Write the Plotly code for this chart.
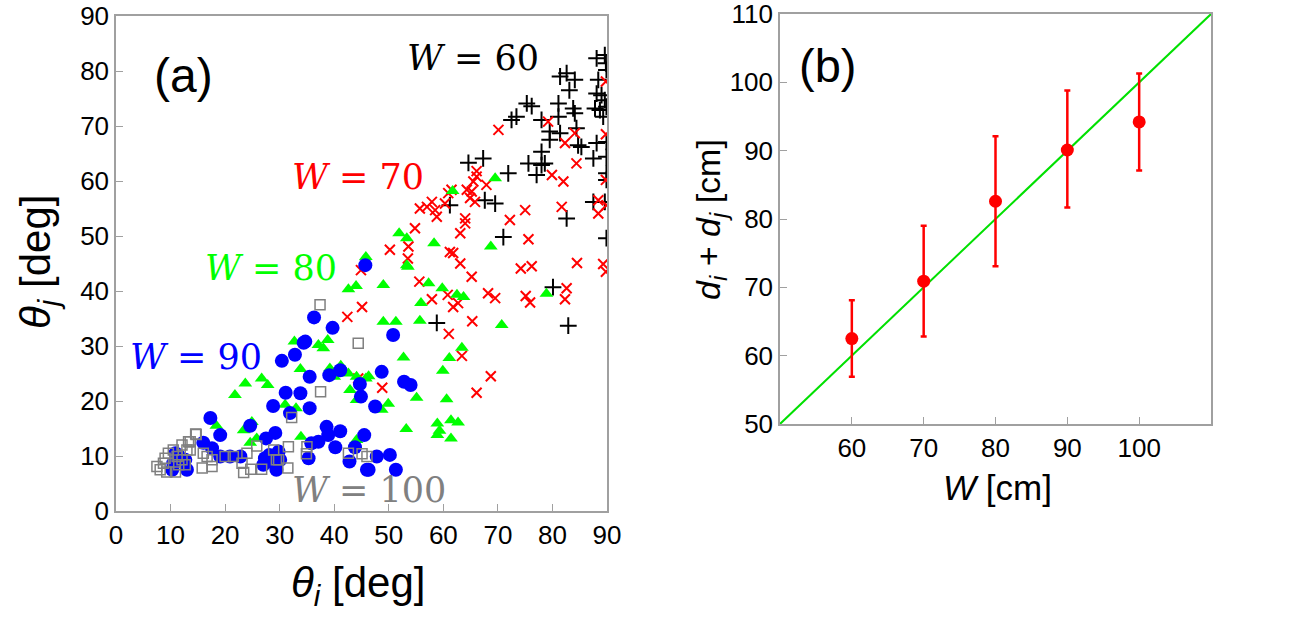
import plotly.graph_objects as go

# ---------------- Panel (a) data: (theta_i, theta_j) in degrees ----------------
w60_x = [88.1, 89.6, 89.8, 89.9, 81.4, 82.6, 84.1, 83.1, 88.4, 88.1, 89.0, 89.6, 89.9, 75.3, 76.2,
         81.1, 83.8, 84.1, 72.5, 73.4, 78.0, 81.1, 87.8, 88.7, 89.3, 79.5, 81.4, 84.4, 79.5, 84.7,
         85.3, 88.1, 89.9, 78.0, 64.6, 67.3, 75.6, 78.0, 78.6, 87.5, 89.9, 71.9, 77.1, 89.9, 89.9,
         67.6, 69.5, 61.2, 87.5, 89.6, 82.6, 71.0, 89.9, 80.1, 58.8, 82.9]
w60_y = [82.3, 82.9, 81.4, 80.2, 79.0, 79.6, 78.4, 76.5, 78.4, 75.9, 75.6, 74.7, 73.5, 74.1, 73.6,
         74.1, 73.2, 72.3, 71.1, 71.7, 71.1, 71.7, 73.2, 72.9, 71.7, 69.0, 68.7, 69.6, 67.5, 66.5,
         66.2, 66.9, 67.1, 65.3, 63.3, 64.1, 63.2, 62.9, 63.2, 64.1, 64.4, 61.4, 61.1, 61.4, 60.2,
         56.5, 55.9, 55.6, 56.2, 56.2, 53.2, 49.8, 49.6, 40.7, 34.2, 33.7]

w70_x = [70.1, 79.2, 84.1, 82.3, 84.4, 89.8, 89.8, 89.8, 79.9, 82.0, 66.1, 65.5, 65.2, 64.3, 67.9,
         60.9, 61.5, 64.9, 65.8, 55.7, 57.0, 57.9, 58.5, 58.8, 60.3, 64.0, 64.0, 63.1, 54.8, 50.2,
         53.6, 53.5, 61.2, 61.8, 72.2, 75.0, 75.6, 81.7, 88.4, 88.4, 89.9, 63.1, 65.2, 74.2, 76.2,
         55.6, 57.9, 60.8, 61.8, 62.7, 68.2, 69.5, 75.1, 75.9, 65.3, 61.0, 44.9, 45.1, 42.4, 44.4,
         48.8, 84.5, 89.3, 89.8, 82.6, 82.3, 63.4, 68.7, 66.1, 66.1]
w70_y = [69.3, 70.8, 68.7, 66.9, 63.2, 78.1, 68.5, 60.2, 61.1, 59.9, 60.8, 59.9, 58.1, 58.4, 59.3,
         57.8, 58.4, 56.9, 56.2, 55.0, 55.3, 56.2, 54.7, 53.5, 55.9, 53.2, 52.3, 50.5, 51.4, 47.5,
         48.1, 45.9, 47.1, 46.9, 52.9, 54.7, 49.4, 55.3, 56.5, 54.1, 55.6, 45.0, 42.6, 44.1, 44.5,
         41.7, 38.5, 39.3, 37.1, 37.8, 39.6, 38.7, 39.1, 37.9, 34.5, 32.2, 43.8, 37.1, 35.3, 24.1,
         22.4, 45.1, 44.9, 43.5, 40.5, 38.5, 28.2, 24.5, 21.5, 61.8]

w80_x = [69.5, 61.7, 51.9, 53.3, 58.3, 68.7, 45.8, 53.3, 53.5, 49.0, 57.3, 59.8, 62.5, 63.7, 55.9,
         49.0, 51.3, 55.7, 70.7, 78.9, 63.4, 61.1, 52.7, 59.9, 46.3, 45.8, 49.9, 48.7, 55.1, 60.6,
         53.2, 58.9, 59.3, 58.9, 61.4, 62.7, 61.4, 42.6, 44.0, 32.7, 37.1, 38.0, 38.8, 33.8, 39.2,
         40.0, 41.2, 42.6, 44.1, 21.8, 23.7, 26.7, 27.8, 31.0, 33.0, 42.9, 44.1, 18.4, 23.4, 24.9,
         25.8, 24.6, 33.9, 44.1]
w80_y = [60.5, 58.2, 50.5, 49.6, 48.7, 48.1, 46.2, 44.7, 44.4, 41.1, 41.4, 40.5, 39.3, 38.9, 37.8,
         34.4, 34.4, 34.6, 33.8, 39.5, 29.7, 27.8, 27.9, 25.5, 24.5, 24.1, 19.5, 18.4, 20.6, 20.3,
         14.9, 15.9, 14.6, 13.8, 16.5, 16.1, 13.2, 40.3, 40.9, 30.8, 30.2, 29.6, 31.1, 25.8, 25.9,
         24.4, 26.4, 25.0, 24.4, 21.1, 23.2, 24.1, 22.9, 19.3, 18.7, 22.0, 20.2, 15.5, 14.7, 16.2,
         13.2, 12.4, 13.5, 12.9]

w90_x = [45.7, 36.3, 39.7, 34.4, 34.7, 30.4, 32.8, 35.5, 39.1, 41.1, 44.7, 44.9, 31.1, 33.8, 28.8,
         35.5, 31.9, 17.3, 19.1, 24.6, 27.5, 29.2, 38.6, 38.9, 41.1, 45.5, 35.8, 37.1, 40.2, 43.8,
         42.8, 46.0, 35.3, 16.0, 17.6, 19.1, 20.9, 22.8, 27.3, 27.0, 29.8, 30.1, 28.9, 10.9, 10.5,
         12.7, 13.0, 10.3, 48.7, 52.8, 54.0, 47.5, 50.2, 47.8, 46.3, 51.3, 50.8, 28.1, 29.4, 11.5]
w90_y = [44.7, 35.2, 33.3, 30.6, 30.8, 27.3, 28.4, 24.4, 24.7, 25.6, 23.1, 20.8, 21.5, 21.4, 19.1,
         18.7, 17.8, 16.9, 13.8, 15.5, 13.2, 14.2, 15.3, 13.8, 14.5, 13.8, 12.3, 12.6, 11.6, 11.6,
         9.0, 7.5, 9.6, 12.4, 11.4, 9.9, 9.9, 9.9, 9.6, 8.4, 10.8, 9.3, 8.7, 10.5, 8.7,
         9.3, 7.5, 7.5, 25.3, 23.5, 22.9, 19.0, 10.2, 9.9, 7.5, 7.5, 32.0, 10.2, 7.5, 10.0]

w100_x = [37.4, 44.4, 37.5, 32.2, 14.7, 13.3, 12.1, 13.6, 16.0, 16.7, 17.6, 17.6, 15.8, 20.0, 21.5,
          23.1, 23.4, 24.0, 25.8, 24.7, 26.7, 28.9, 29.4, 29.8, 31.5, 31.6, 35.0, 34.9, 42.6, 45.1,
          46.0, 7.5, 8.1, 8.7, 9.0, 9.6, 10.5, 11.2, 12.1, 11.5, 9.3, 10.9, 12.7, 13.0, 13.6, 14.6]
w100_y = [37.5, 30.5, 21.7, 17.0, 13.9, 12.6, 12.0, 11.1, 10.5, 9.9, 9.3, 8.1, 7.8, 9.9, 9.9,
          8.7, 7.0, 10.5, 11.8, 7.6, 7.6, 11.1, 9.3, 9.3, 7.8, 11.7, 11.7, 10.4, 10.5, 10.4,
          9.9, 8.1, 7.5, 8.7, 9.6, 10.5, 11.1, 9.9, 9.3, 8.4, 7.1, 7.1, 8.4, 11.1, 12.6, 14.0]

# ---------------- Panel (b) data ----------------
W_cm = [60, 70, 80, 90, 100]
d_sum = [62.5, 70.9, 82.6, 90.1, 94.2]
err_plus = [5.6, 8.1, 9.5, 8.7, 7.1]
err_minus = [5.6, 8.1, 9.5, 8.4, 7.1]
line_x = [50, 110]
line_y = [50, 110]

tick_a = [0, 10, 20, 30, 40, 50, 60, 70, 80, 90]
tick_b_x = [60, 70, 80, 90, 100]
tick_b_y = [50, 60, 70, 80, 90, 100, 110]

RED = "#ff0000"
GREEN = "#00ff00"
BLUE = "#0000ff"
GRAY = "#808080"
FRAME = "#a0a0a0"
SANS = "Liberation Sans, Arial, sans-serif"
SERIF = "DejaVu Serif, serif"

fig = go.Figure()

fig.add_trace(go.Scatter(x=w60_x, y=w60_y, mode="markers", xaxis="x", yaxis="y",
                         marker=dict(symbol="cross-thin", size=12, line=dict(width=2, color="black"),
                                     color="black"), showlegend=False))
fig.add_trace(go.Scatter(x=w70_x, y=w70_y, mode="markers", xaxis="x", yaxis="y",
                         marker=dict(symbol="x-thin", size=10, line=dict(width=2, color=RED),
                                     color=RED), showlegend=False))
fig.add_trace(go.Scatter(x=w80_x, y=w80_y, mode="markers", xaxis="x", yaxis="y",
                         marker=dict(symbol="triangle-up", size=12, color=GREEN, line=dict(width=0)),
                         showlegend=False))
fig.add_trace(go.Scatter(x=w90_x, y=w90_y, mode="markers", xaxis="x", yaxis="y",
                         marker=dict(symbol="circle", size=14, color=BLUE, line=dict(width=0)),
                         showlegend=False))
fig.add_trace(go.Scatter(x=w100_x, y=w100_y, mode="markers", xaxis="x", yaxis="y",
                         marker=dict(symbol="square-open", size=10, color=GRAY, line=dict(width=1.5, color=GRAY)),
                         showlegend=False))

fig.add_trace(go.Scatter(x=line_x, y=line_y, mode="lines", xaxis="x2", yaxis="y2",
                         line=dict(color="#00e000", width=2), showlegend=False))
fig.add_trace(go.Scatter(x=W_cm, y=d_sum, mode="markers", xaxis="x2", yaxis="y2",
                         marker=dict(symbol="circle", size=13, color=RED),
                         error_y=dict(type="data", symmetric=False, array=err_plus, arrayminus=err_minus,
                                      color=RED, thickness=2.5, width=3),
                         showlegend=False))

axis_common = dict(showline=True, linecolor=FRAME, linewidth=1.5, mirror=True, showgrid=False,
                   zeroline=False, ticks="inside", ticklen=7, tickcolor=FRAME, tickwidth=1,
                   automargin=False, ticklabeloverflow="allow",
                   tickfont=dict(family=SANS, size=26, color="black"))

fig.update_layout(
    template="none",
    width=1290, height=630, margin=dict(l=0, r=0, t=0, b=0, pad=0, autoexpand=False),
    paper_bgcolor="white", plot_bgcolor="white",
    xaxis=dict(domain=[116/1290, 607/1290], range=[0, 90], tickvals=tick_a, anchor="y", **axis_common),
    yaxis=dict(domain=[1-511/630, 1-16/630], range=[0, 90], tickvals=tick_a, anchor="x", **axis_common),
    xaxis2=dict(domain=[780/1290, 1211/1290], range=[50, 110], tickvals=tick_b_x, anchor="y2", **axis_common),
    yaxis2=dict(domain=[1-424/630, 1-14/630], range=[50, 110], tickvals=tick_b_y, anchor="x2", **axis_common),
)

ann = []
def paper_text(text, px, py, size, family=SANS, color="black", angle=0):
    ann.append(dict(text=text, x=px/1290, y=1-py/630, xref="paper", yref="paper",
                    xanchor="center", yanchor="middle", showarrow=False, textangle=angle,
                    font=dict(family=family, size=size, color=color)))

def data_text(text, x, y, size, color, xr="x", yr="y"):
    ann.append(dict(text=text, x=x, y=y, xref=xr, yref=yr, xanchor="center", yanchor="middle",
                    showarrow=False, font=dict(family=SERIF, size=size, color=color)))

paper_text("(a)", 183, 75, 48)
paper_text("(b)", 827, 66, 47)
paper_text("<i>θ</i><sub><i>i</i></sub> [deg]", 358, 585, 42)
paper_text("<i>θ</i><sub><i>j</i></sub> [deg]", 38, 262, 42, angle=-90)
paper_text("<i>W</i> [cm]", 997, 487, 35)
paper_text("<i>d</i><sub><i>i</i></sub> + <i>d</i><sub><i>j</i></sub> [cm]", 710, 220, 34, angle=-90)

data_text("<i>W</i> = 60", 65.4, 82.4, 35, "black")
data_text("<i>W</i> = 70", 44.4, 60.7, 35, RED)
data_text("<i>W</i> = 80", 28.5, 44.2, 35, GREEN)
data_text("<i>W</i> = 90", 14.7, 28.0, 35, BLUE)
data_text("<i>W</i> = 100", 46.4, 3.8, 35, GRAY)

fig.update_layout(annotations=ann)
fig.write_html("out.html")
